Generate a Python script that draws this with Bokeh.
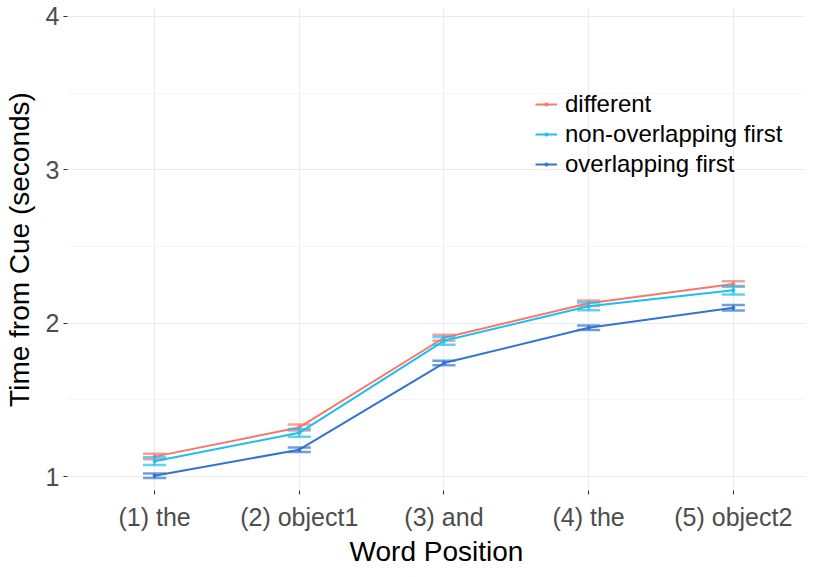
from bokeh.plotting import figure
from bokeh.models import FixedTicker, Legend, LegendItem, Range1d
from bokeh.embed import file_html
from bokeh.resources import INLINE

positions = [1, 2, 3, 4, 5]
tick_labels = ["(1) the", "(2) object1", "(3) and", "(4) the", "(5) object2"]
series_names = ["different", "non-overlapping first", "overlapping first"]
different = [1.13, 1.32, 1.905, 2.13, 2.255]
different_se = [0.018, 0.02, 0.02, 0.018, 0.018]
non_overlapping = [1.10, 1.285, 1.885, 2.11, 2.215]
non_overlapping_se = [0.025, 0.025, 0.025, 0.025, 0.028]
overlapping = [1.005, 1.175, 1.74, 1.97, 2.10]
overlapping_se = [0.015, 0.015, 0.015, 0.015, 0.018]
colors = ["#F8766D", "#1CBFEF", "#3374D0"]

FONT = "Liberation Sans"

p = figure(width=805, height=569, output_backend="svg", toolbar_location=None,
           x_range=Range1d(0.398, 5.499), y_range=Range1d(0.909, 4.052),
           min_border_left=59, min_border_right=0, min_border_top=8, min_border_bottom=78)
p.outline_line_color = None
p.background_fill_color = "white"

# axes
p.xaxis.ticker = FixedTicker(ticks=positions)
p.xaxis.major_label_overrides = {pos: lab for pos, lab in zip(positions, tick_labels)}
p.yaxis.ticker = FixedTicker(ticks=[1, 2, 3, 4], minor_ticks=[1.5, 2.5, 3.5])
for ax in (p.xaxis[0], p.yaxis[0]):
    ax.axis_line_color = None
    ax.major_tick_in = 0
    ax.major_tick_out = 4
    ax.major_tick_line_color = "#333333"
    ax.minor_tick_out = 0
    ax.minor_tick_in = 0
    ax.major_label_text_font = FONT
    ax.major_label_text_font_size = "25px"
    ax.major_label_text_color = "#4D4D4D"
    ax.axis_label_text_font = FONT
    ax.axis_label_text_font_size = "28px"
    ax.axis_label_text_font_style = "normal"
    ax.axis_label_text_color = "black"
p.xaxis.axis_label = "Word Position"
p.yaxis.axis_label = "Time from Cue (seconds)"
p.xaxis.major_label_standoff = 8
p.xaxis.axis_label_standoff = 2
p.yaxis.major_label_standoff = 4
p.yaxis.axis_label_standoff = 8

p.xgrid.grid_line_color = "#EBEBEB"
p.ygrid.grid_line_color = "#EBEBEB"
p.ygrid.minor_grid_line_color = "#F5F5F5"

series = [(different, different_se), (non_overlapping, non_overlapping_se), (overlapping, overlapping_se)]
items = []
cap = 0.08
for name, (vals, se), col in zip(series_names, series, colors):
    lo = [v - s for v, s in zip(vals, se)]
    hi = [v + s for v, s in zip(vals, se)]
    p.segment(x0=positions, y0=lo, x1=positions, y1=hi, line_color=col, line_width=2.5, line_alpha=0.7)
    p.segment(x0=[x - cap for x in positions], y0=lo, x1=[x + cap for x in positions], y1=lo,
              line_color=col, line_width=2.5, line_alpha=0.7)
    p.segment(x0=[x - cap for x in positions], y0=hi, x1=[x + cap for x in positions], y1=hi,
              line_color=col, line_width=2.5, line_alpha=0.7)
    ln = p.line(positions, vals, line_color=col, line_width=2)
    pt = p.scatter(positions, vals, size=3, color=col)
    items.append(LegendItem(label=name, renderers=[ln, pt]))

legend = Legend(items=items, location=(468, 311), orientation="vertical")
legend.label_text_font = FONT
legend.label_text_font_size = "24px"
legend.label_text_color = "black"
legend.glyph_width = 22
legend.glyph_height = 8
legend.label_height = 30
legend.spacing = 0
legend.padding = 5
legend.label_standoff = 8
legend.border_line_color = None
legend.background_fill_alpha = 0
p.add_layout(legend, "center")

open("out.html", "w").write(file_html(p, INLINE))
